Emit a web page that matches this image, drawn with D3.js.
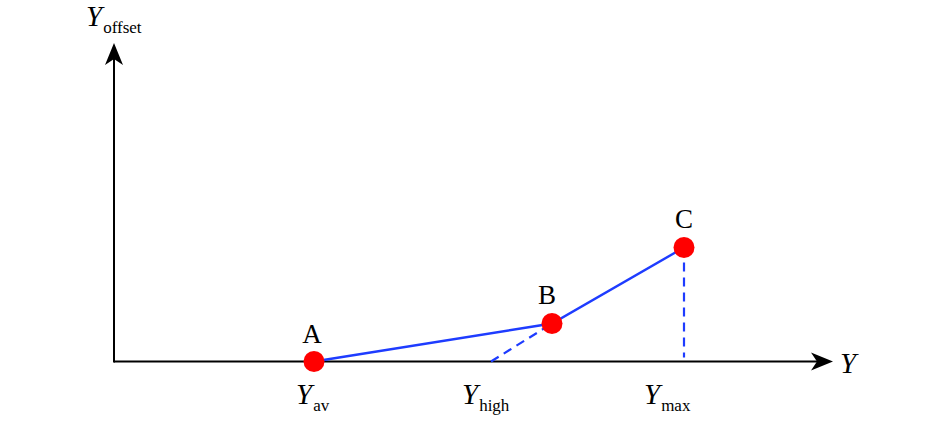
<!DOCTYPE html>
<html>
<head>
<meta charset="utf-8">
<script src="https://cdn.jsdelivr.net/npm/d3@7"></script>
<style>
  body { margin: 0; background: #fff; }
</style>
</head>
<body>
<div id="chart"></div>
<script>
// points on the curve (Y, Yoffset), in arbitrary units
var pointNames = ["A", "B", "C"];
var pointX = [2.0, 4.38, 5.7];
var pointY = [0, 0.38, 1.14];
// marks on the Y axis
var tickNames = ["av", "high", "max"];
var tickX = [2.0, 3.77, 5.66];

var width = 945, height = 423;
var serif = "'Liberation Serif', 'Times New Roman', Times, serif";
var x0 = 114, y0 = 361.5;
var x = d3.scaleLinear().domain([0, 7.19]).range([x0, 833]);
var y = d3.scaleLinear().domain([0, 3.185]).range([y0, 43]);

var svg = d3.select("#chart").append("svg")
    .attr("width", width).attr("height", height);

var blue = "#1e3cff";

// axes
svg.append("line")
    .attr("x1", x(0)).attr("y1", y(0))
    .attr("x2", x(7.19) - 10).attr("y2", y(0))
    .attr("stroke", "#000").attr("stroke-width", 2);
svg.append("line")
    .attr("x1", x(0)).attr("y1", y(0) + 1)
    .attr("x2", x(0)).attr("y2", y(3.185) + 10)
    .attr("stroke", "#000").attr("stroke-width", 2);

function arrowHead(tx, ty, angle) {
    // tip at (tx,ty), pointing along angle (deg)
    svg.append("path")
        .attr("d", "M0,0 L-22,-9 L-16,0 L-22,9 Z")
        .attr("transform", "translate(" + tx + "," + ty + ") rotate(" + angle + ")")
        .attr("fill", "#000");
}
arrowHead(x(7.19), y(0), 0);
arrowHead(x(0), y(3.185), -90);

// dashed guides: extension of BC down to the axis, and drop from C
svg.append("line")
    .attr("x1", x(tickX[1])).attr("y1", y(0))
    .attr("x2", x(pointX[1])).attr("y2", y(pointY[1]))
    .attr("stroke", blue).attr("stroke-width", 2.2)
    .attr("stroke-dasharray", "9,6");
svg.append("line")
    .attr("x1", x(pointX[2])).attr("y1", y(pointY[2]))
    .attr("x2", x(pointX[2])).attr("y2", y(0) - 4)
    .attr("stroke", blue).attr("stroke-width", 2.2)
    .attr("stroke-dasharray", "9,6");

// curve
var pts = pointX.map(function(d, i) { return [d, pointY[i]]; });
svg.append("path")
    .datum(pts)
    .attr("d", d3.line().x(function(d) { return x(d[0]); }).y(function(d) { return y(d[1]); }))
    .attr("fill", "none").attr("stroke", blue).attr("stroke-width", 2.4);

svg.selectAll("circle.pt").data(pts)
    .enter().append("circle")
    .attr("class", "pt")
    .attr("cx", function(d) { return x(d[0]); })
    .attr("cy", function(d) { return y(d[1]); })
    .attr("r", 10.5)
    .attr("fill", "#ff0000");

// point letters
var letterDx = [-2, -5, 0];
var letterDy = [-19, -20, -20];
svg.selectAll("text.pname").data(pts)
    .enter().append("text")
    .attr("class", "pname")
    .attr("x", function(d, i) { return x(d[0]) + letterDx[i]; })
    .attr("y", function(d, i) { return y(d[1]) + letterDy[i]; })
    .attr("text-anchor", "middle")
    .attr("font-family", serif)
    .attr("font-size", 27)
    .text(function(d, i) { return pointNames[i]; });

// axis mark labels
function subLabel(px, py, sub) {
    var t = svg.append("text")
        .attr("x", px).attr("y", py)
        .attr("font-family", serif);
    t.append("tspan").attr("font-size", 29).attr("font-style", "italic").text("Y");
    t.append("tspan").attr("font-size", 17).attr("dy", 7).attr("dx", 1).text(sub);
    return t;
}
var labelDx = [-18, -29, -36];
tickNames.forEach(function(n, i) {
    subLabel(x(tickX[i]) + labelDx[i], 404, n);
});

subLabel(86, 26, "offset");

svg.append("text")
    .attr("x", 840).attr("y", 373)
    .attr("font-family", serif)
    .attr("font-size", 29).attr("font-style", "italic")
    .text("Y");
</script>
</body>
</html>
